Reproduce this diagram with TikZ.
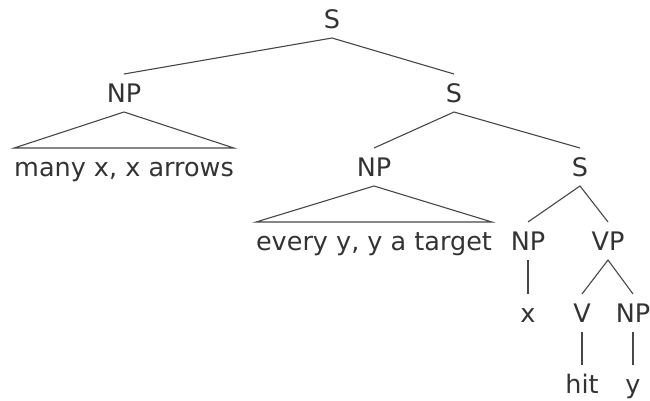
\documentclass[tikz,border=0pt]{standalone}
\usepackage{fontspec}
\setmainfont{DejaVu Sans}
\begin{document}
\begin{tikzpicture}[x=1pt,y=-1pt,
  lab/.style={anchor=base,inner sep=0pt,outer sep=0pt,text height=28pt,text depth=10pt,
    font=\fontsize{25.5}{30}\selectfont,text=black!80},
  br/.style={draw=black!72,line width=1.1pt},
  tri/.style={draw=black!72,line width=1.1pt,line join=miter}]
\useasboundingbox (0,0) rectangle (650,400);
\node[lab] (s1) at (332,28) {S};
\node[lab] (np1) at (124,102) {NP};
\node[lab] (s2) at (454,102) {S};
\node[lab] (t1) at (124,176) {many x, x arrows};
\node[lab] (np2) at (374,176) {NP};
\node[lab] (s3) at (580,176) {S};
\node[lab] (t2) at (374,250) {every y, y a target};
\node[lab] (np3) at (528,250) {NP};
\node[lab] (vp) at (608,250) {VP};
\node[lab] (x) at (528,322) {x};
\node[lab] (v) at (582,322) {V};
\node[lab] (np4) at (633,322) {NP};
\node[lab] (hit) at (582,393) {hit};
\node[lab] (y) at (633,393) {y};
\draw[br] (np1.north) -- (s1.south) -- (s2.north);
\draw[tri] (np1.south) -- (t1.north east) -- (t1.north west) -- cycle;
\draw[br] (np2.north) -- (s2.south) -- (s3.north);
\draw[tri] (np2.south) -- (t2.north east) -- (t2.north west) -- cycle;
\draw[br] (np3.north) -- (s3.south) -- (vp.north);
\draw[br] (np3.south) -- (x.north);
\draw[br] (v.north) -- (vp.south) -- (np4.north);
\draw[br] (v.south) -- (hit.north);
\draw[br] (np4.south) -- (y.north);
\end{tikzpicture}
\end{document}
